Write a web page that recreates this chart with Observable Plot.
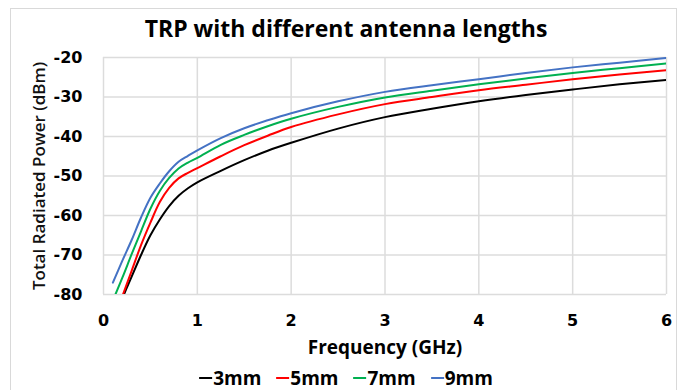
<!DOCTYPE html>
<html>
<head>
<meta charset="utf-8">
<script src="https://cdn.jsdelivr.net/npm/d3@7"></script>
<script src="https://cdn.jsdelivr.net/npm/@observablehq/plot@0.6"></script>
<style>
  html, body { margin: 0; padding: 0; background: #fff; }
  #wrap { position: relative; width: 686px; height: 390px; overflow: hidden; font-family: "Open Sans", sans-serif; }
  #frame { position: absolute; left: 10px; top: 8px; width: 667px; height: 400px; border: 1px solid #d9d9d9; box-sizing: border-box; }
  #title { position: absolute; left: 346px; top: 28px; transform: translate(-50%, -50%); white-space: nowrap; font-weight: bold; font-size: 23px; color: #000; }
  #ylabel { position: absolute; left: 38px; top: 176px; transform: translate(-50%, -50%) rotate(-90deg); white-space: nowrap; font-size: 17px; font-weight: 600; color: #111; }
  #xlabel { position: absolute; left: 385px; top: 347px; transform: translate(-50%, -50%); white-space: nowrap; font-size: 19px; font-weight: bold; color: #000; }
  #legend { position: absolute; left: 346px; top: 378px; transform: translate(-50%, -50%); white-space: nowrap; font-size: 19px; font-weight: bold; color: #000; display: flex; gap: 15px; }
  #legend .item { display: flex; align-items: center; }
  #legend .sw { display: inline-block; width: 13px; height: 2px; margin-right: 1px; }
  #chart { position: absolute; left: 0; top: 0; }
</style>
</head>
<body>
<div id="wrap">
  <div id="frame"></div>
  <div id="chart"></div>
  <div id="title">TRP with different antenna lengths</div>
  <div id="ylabel">Total Radiated Power (dBm)</div>
  <div id="xlabel">Frequency (GHz)</div>
  <div id="legend"></div>
</div>
<script>
const freq = [0.1, 0.2, 0.3, 0.4, 0.5, 0.6, 0.7, 0.8, 0.9, 1.0, 1.25, 1.5, 1.75, 2, 2.5, 3, 3.5, 4, 4.5, 5, 5.5, 6];
const trp3mm = [-87, -81, -75.5, -70.0, -65.0, -61.0, -57.6, -55.0, -53.1, -51.6, -48.7, -46.0, -43.6, -41.6, -38.0, -35.1, -33.0, -31.1, -29.5, -28.1, -26.8, -25.7];
const trp5mm = [-87, -80.5, -74.0, -67.5, -61.8, -56.6, -53.0, -50.6, -49.2, -48.0, -45.0, -42.2, -39.8, -37.6, -34.4, -31.8, -30.0, -28.3, -26.9, -25.5, -24.3, -23.2];
const trp7mm = [-81.5, -75.8, -69.8, -64.0, -58.3, -53.8, -50.5, -48.1, -46.6, -45.4, -42.1, -39.6, -37.4, -35.5, -32.5, -30.1, -28.4, -26.8, -25.3, -23.9, -22.7, -21.5];
const trp9mm = [-77.0, -71.5, -66.2, -60.5, -55.5, -51.9, -48.8, -46.4, -44.9, -43.5, -40.4, -37.9, -35.9, -34.1, -31.1, -28.7, -27.0, -25.5, -23.9, -22.5, -21.3, -20.1];
const seriesNames = ["3mm", "5mm", "7mm", "9mm"];
const seriesColors = ["#000000", "#ff0000", "#00b050", "#4472c4"];
const xTicks = [0, 1, 2, 3, 4, 5, 6];
const yTicks = [-80, -70, -60, -50, -40, -30, -20];

const seriesValues = [trp3mm, trp5mm, trp7mm, trp9mm];
const data = [];
seriesNames.forEach((name, i) => {
  freq.forEach((f, j) => data.push({series: name, freq: f, trp: seriesValues[i][j]}));
});

const chart = Plot.plot({
  width: 686,
  height: 390,
  marginTop: 57,
  marginBottom: 96,
  marginLeft: 103,
  marginRight: 20,
  style: {fontFamily: "Open Sans, sans-serif", background: "transparent"},
  x: {domain: [0, 6]},
  y: {domain: [-80, -20]},
  color: {domain: seriesNames, range: seriesColors},
  marks: [
    Plot.ruleY(yTicks, {stroke: "#dcdcdc", strokeWidth: 1.5, strokeOpacity: 1}),
    Plot.ruleX(xTicks, {stroke: "#dcdcdc", strokeWidth: 1.5, strokeOpacity: 1}),
    Plot.line(data, {x: "freq", y: "trp", z: "series", stroke: "series", strokeWidth: 2, curve: "catmull-rom", clip: true}),
    Plot.axisX(xTicks, {tickSize: 0, tickPadding: 20, fontSize: 16, fontWeight: "bold", fontFamily: "DejaVu Sans", fill: "#000", label: null}),
    Plot.axisY(yTicks, {tickSize: 0, tickPadding: 21, fontSize: 16, fontWeight: "bold", fontFamily: "DejaVu Sans", fill: "#000", label: null, tickFormat: d => String(d)})
  ]
});
document.getElementById("chart").appendChild(chart);

const legend = document.getElementById("legend");
seriesNames.forEach((name, i) => {
  const item = document.createElement("span");
  item.className = "item";
  const sw = document.createElement("span");
  sw.className = "sw";
  sw.style.background = seriesColors[i];
  item.appendChild(sw);
  item.appendChild(document.createTextNode(name));
  legend.appendChild(item);
});
</script>
</body>
</html>
